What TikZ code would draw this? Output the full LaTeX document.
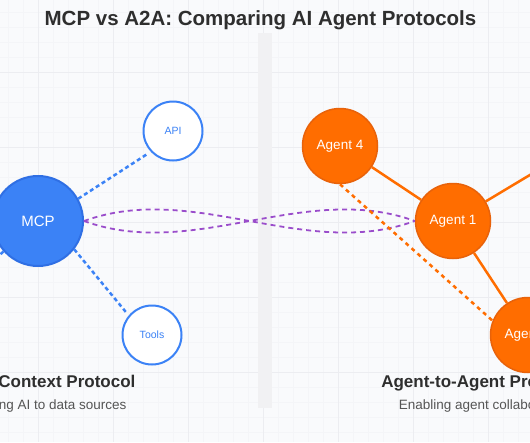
\documentclass[tikz,border=0pt]{standalone}
\usepackage{fontspec}
\setmainfont{Liberation Sans}
\definecolor{mcpblue}{HTML}{3B82F6}
\definecolor{mcpborder}{HTML}{2F6FE4}
\definecolor{agentorange}{HTML}{FF6D00}
\definecolor{agentborder}{HTML}{E8620A}
\definecolor{linkpurple}{HTML}{9A4DCB}
\definecolor{bgpaper}{HTML}{F9FAFC}
\definecolor{gridminor}{HTML}{F4F5F8}
\definecolor{gridmajor}{HTML}{ECEDF1}
\definecolor{divider}{HTML}{F1F1F3}
\definecolor{titlegray}{HTML}{2E2E2E}
\definecolor{subgray}{HTML}{555555}

\begin{document}
\begin{tikzpicture}[x=1pt, y=-1pt,
    hub/.style={circle, draw=mcpborder, line width=2pt, fill=mcpblue, minimum size=90pt, inner sep=0pt, text=white, font=\fontsize{15}{18}\selectfont},
    source/.style={circle, draw=mcpblue, line width=2pt, fill=white, minimum size=59pt, inner sep=0pt, text=mcpblue, font=\fontsize{10.5}{12}\selectfont},
    agent/.style={circle, draw=agentborder, line width=1.5pt, fill=agentorange, minimum size=75pt, inner sep=0pt, text=white, font=\fontsize{13.5}{16}\selectfont},
    feed/.style={mcpblue, line width=2.5pt, dash pattern=on 4pt off 3pt},
    peer/.style={agentorange, line width=2.5pt},
    peerdash/.style={agentorange, line width=2.5pt, dash pattern=on 4pt off 4pt},
    bridge/.style={linkpurple, line width=1.8pt, dash pattern=on 5pt off 4pt},
    heading/.style={anchor=base, text=titlegray, font=\bfseries\fontsize{17}{20}\selectfont},
    caption/.style={anchor=base, text=subgray, font=\fontsize{13.5}{16}\selectfont}]
    % Sfondo e griglia
    \useasboundingbox (0,0) rectangle (530,442);
    \clip (0,0) rectangle (530,442);
    \fill[bgpaper] (0,0) rectangle (530,442);
    \foreach \x in {8,23,...,530} \draw[gridminor, line width=0.8pt] (\x,0) -- (\x,442);
    \foreach \y in {12,27,...,442} \draw[gridminor, line width=0.8pt] (0,\y) -- (530,\y);
    \foreach \x in {38,113,...,530} \draw[gridmajor, line width=0.8pt] (\x,0) -- (\x,442);
    \foreach \y in {72,147,...,442} \draw[gridmajor, line width=0.8pt] (0,\y) -- (530,\y);
    \fill[divider] (258,33) rectangle (272,408);

    % Titolo
    \node[anchor=base, text=titlegray, font=\bfseries\fontsize{20.5}{24}\selectfont] (title) at (260.5,25) {MCP vs A2A: Comparing AI Agent Protocols};

    % Lato MCP
    \begin{scope}
        \node[hub] (mcp) at (38,221) {MCP};
        \node[source] (api) at (173,131) {API};
        \node[source] (tools) at (152,335) {Tools};
        \coordinate (offleft) at (-40,290);

        \draw[feed, shorten >=3pt] (mcp.29) -- (api.-137);
        \draw[feed, shorten >=4pt] (mcp.-38) -- (tools.140);
        \draw[feed] (mcp) -- (offleft);
    \end{scope}

    % Lato A2A
    \begin{scope}
        \node[agent] (ag4) at (340,146) {Agent 4};
        \node[agent] (ag1) at (453,221) {Agent 1};
        \node[agent] (ag2) at (528,335) {Agent 2};
        \coordinate (offright) at (600,133);
    \end{scope}

    % Collegamento MCP - A2A
    \draw[bridge] (mcp.east) .. controls (194,181) and (305,261) .. (ag1.west);
    \draw[bridge] (mcp.east) .. controls (194,261) and (305,181) .. (ag1.west);

    \draw[peer] (ag4) -- (ag1);
    \draw[peer] (ag1) -- (ag2);
    \draw[peer] (ag1) -- (offright);
    \draw[peerdash] (ag4.south) -- (ag2.158);

    % Didascalie
    \node[heading] (mcphead) at (40,387) {Model Context Protocol};
    \node[caption] (mcpsub) at (36,409) {Connecting AI to data sources};
    \node[heading] (a2ahead) at (480,387) {Agent-to-Agent Protocol};
    \node[caption] (a2asub) at (484,409) {Enabling agent collaboration};
\end{tikzpicture}
\end{document}
